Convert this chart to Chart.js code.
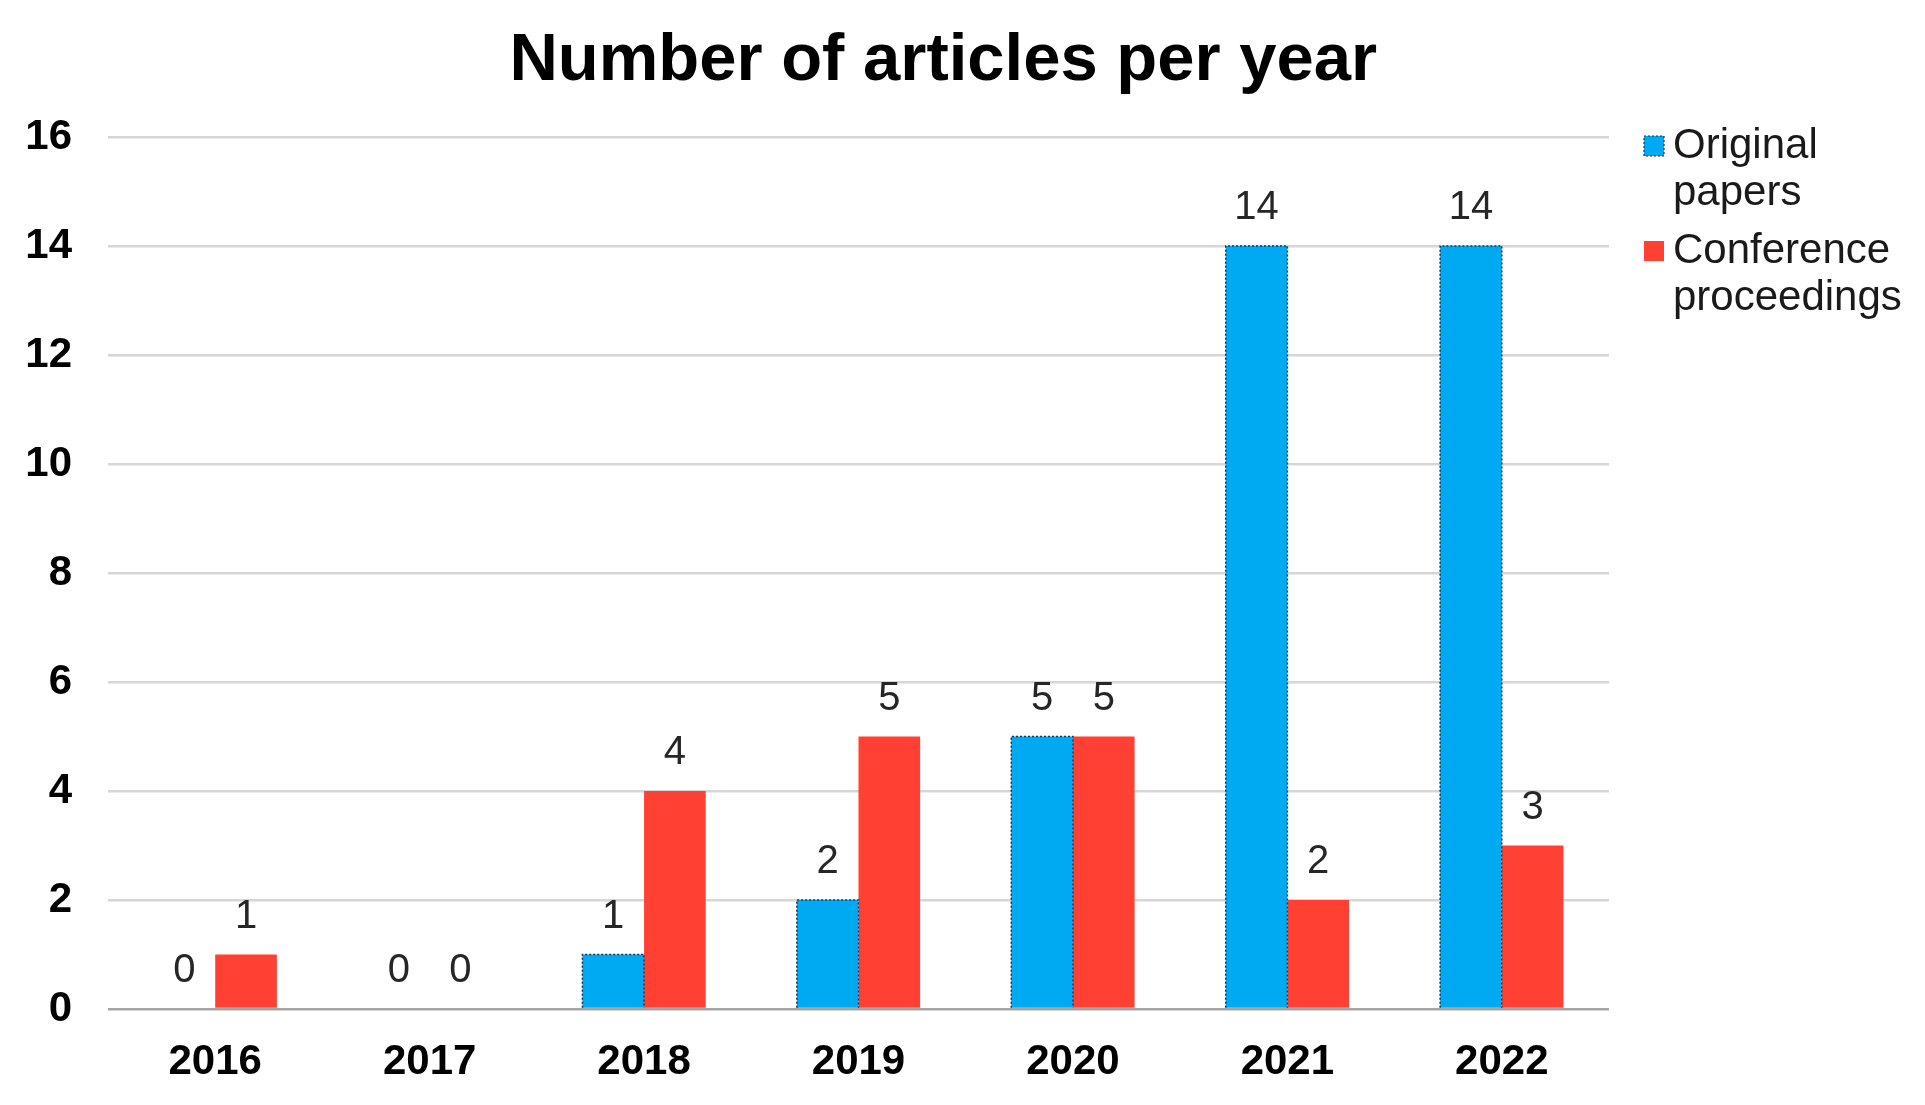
<!DOCTYPE html>
<html>
<head>
<meta charset="utf-8">
<title>Number of articles per year</title>
<script src="https://cdn.jsdelivr.net/npm/chart.js@4.4.0/dist/chart.umd.min.js"></script>
<style>
  html, body { margin: 0; padding: 0; background: #fff; }
  #wrap { width: 1925px; height: 1105px; position: relative; }
</style>
</head>
<body>
<div id="wrap"><canvas id="chart"></canvas></div>
<script>
// data
const years = ["2016", "2017", "2018", "2019", "2020", "2021", "2022"];
const originalPapers = [0, 0, 1, 2, 5, 14, 14];
const conferenceProceedings = [1, 0, 4, 5, 5, 2, 3];
const seriesNames = [["Original", "papers"], ["Conference", "proceedings"]];
const yTicks = [0, 2, 4, 6, 8, 10, 12, 14, 16];
const chartTitle = "Number of articles per year";

const BLUE = "#00AAF2";
const RED = "#FF4033";
const FONT = "'Liberation Sans', Arial, sans-serif";

// title, centred on the whole figure rather than the plot
const figureTitle = {
  id: "figureTitle",
  afterDraw(chart) {
    const ctx = chart.ctx;
    ctx.save();
    ctx.font = "bold 67px " + FONT;
    ctx.fillStyle = "#000";
    ctx.textAlign = "center";
    ctx.textBaseline = "middle";
    ctx.fillText(chartTitle, chart.width * 0.49, 62);
    ctx.restore();
  },
};

// value labels above bars (zeros too, as in the original)
const valueLabels = {
  id: "valueLabels",
  afterDatasetsDraw(chart) {
    const ctx = chart.ctx;
    ctx.save();
    ctx.font = "40px " + FONT;
    ctx.fillStyle = "#262626";
    ctx.textAlign = "center";
    ctx.textBaseline = "middle";
    chart.data.datasets.forEach((ds, i) => {
      chart.getDatasetMeta(i).data.forEach((bar, j) => {
        ctx.fillText(String(ds.data[j]), bar.x, bar.y - 38);
      });
    });
    ctx.restore();
  },
};

// dotted outline on the blue bars
const dottedOutline = {
  id: "dottedOutline",
  afterDatasetDraw(chart, args) {
    if (args.index !== 0) return;
    const ctx = chart.ctx;
    ctx.save();
    ctx.strokeStyle = "#1b3550";
    ctx.lineWidth = 1.5;
    ctx.setLineDash([2, 2]);
    args.meta.data.forEach((bar) => {
      const p = bar.getProps(["x", "y", "base", "width"], true);
      if (p.base - p.y < 1) return;
      const l = p.x - p.width / 2, r = p.x + p.width / 2;
      ctx.beginPath();
      ctx.moveTo(l, p.base);
      ctx.lineTo(l, p.y);
      ctx.lineTo(r, p.y);
      ctx.lineTo(r, p.base);
      ctx.stroke();
    });
    ctx.restore();
  },
};

// legend to the right, two-line labels
const sideLegend = {
  id: "sideLegend",
  afterDraw(chart) {
    const ctx = chart.ctx;
    const area = chart.chartArea;
    const x0 = area.right + 35;
    let y = area.top + 9;
    ctx.save();
    ctx.font = "42px " + FONT;
    ctx.textBaseline = "middle";
    ctx.textAlign = "left";
    chart.data.datasets.forEach((ds, i) => {
      ctx.fillStyle = ds.backgroundColor;
      ctx.fillRect(x0, y - 10, 20, 20);
      if (i === 0) {
        ctx.strokeStyle = "#1b3550";
        ctx.lineWidth = 1.2;
        ctx.setLineDash([2, 2]);
        ctx.strokeRect(x0, y - 10, 20, 20);
        ctx.setLineDash([]);
      }
      ctx.fillStyle = "#1a1a1a";
      seriesNames[i].forEach((line, k) => {
        ctx.fillText(line, x0 + 29, y + k * 47);
      });
      y += 105;
    });
    ctx.restore();
  },
};

new Chart(document.getElementById("chart"), {
  type: "bar",
  data: {
    labels: years,
    datasets: [
      {
        label: seriesNames[0].join(" "),
        data: originalPapers,
        backgroundColor: BLUE,
        borderWidth: 0,
      },
      {
        label: seriesNames[1].join(" "),
        data: conferenceProceedings,
        backgroundColor: RED,
        borderWidth: 0,
      },
    ],
  },
  options: {
    responsive: true,
    maintainAspectRatio: false,
    animation: false,
    layout: {
      padding: { left: 0, right: 316, top: 137, bottom: 0 },
    },
    datasets: {
      bar: { categoryPercentage: 0.575, barPercentage: 1.0 },
    },
    plugins: {
      legend: { display: false },
      tooltip: { enabled: false },
      title: { display: false },
    },
    scales: {
      x: {
        grid: { display: false, drawTicks: false },
        border: { display: false },
        afterFit(scale) { scale.height = 96; },
        ticks: {
          color: "#000",
          padding: 28,
          font: { family: FONT, size: 42, weight: "bold" },
        },
      },
      y: {
        min: 0,
        max: 16,
        afterBuildTicks(scale) {
          scale.ticks = yTicks.map((v) => ({ value: v }));
        },
        afterFit(scale) { scale.width = 108; },
        grid: {
          drawTicks: false,
          lineWidth: 2.5,
          color: (c) => (c.tick && c.tick.value === 0 ? "#A6A6A6" : "#D6D6D6"),
        },
        border: { display: false },
        ticks: {
          color: "#000",
          padding: 36,
          font: { family: FONT, size: 42, weight: "bold" },
        },
      },
    },
  },
  plugins: [figureTitle, valueLabels, dottedOutline, sideLegend],
});
</script>
</body>
</html>
